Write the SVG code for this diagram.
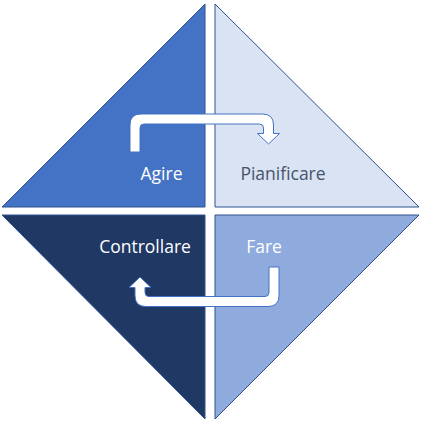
<svg xmlns="http://www.w3.org/2000/svg" width="421" height="424" viewBox="0 0 421 424">
  <style>
    .tri { stroke: #2F528F; stroke-width: 1; stroke-linejoin: miter; }
    .lbl { font-family: "Open Sans", "Noto Sans", "Liberation Sans", sans-serif; font-size: 17.5px; text-anchor: middle; }
    .arrow { fill: #FFFFFF; stroke: #4472C4; stroke-width: 1; stroke-linejoin: round; }
  </style>
  <rect width="421" height="424" fill="#FFFFFF"/>
  <g id="agire">
    <polygon class="tri" points="2,207 205,4 205,207" fill="#4472C4"/>
    <text class="lbl" x="161.5" y="180" fill="#FFFFFF">Agire</text>
  </g>
  <g id="pianificare">
    <polygon class="tri" points="215,4 419,207 215,207" fill="#DAE3F3"/>
    <text class="lbl" x="283" y="180" fill="#44546A">Pianificare</text>
  </g>
  <g id="controllare">
    <polygon class="tri" points="2,215 205,215 205,419" fill="#203864"/>
    <text class="lbl" x="145" y="253" fill="#FFFFFF">Controllare</text>
  </g>
  <g id="fare">
    <polygon class="tri" points="215,215 419,215 215,419" fill="#8FAADC"/>
    <text class="lbl" x="264" y="253" fill="#FFFFFF">Fare</text>
  </g>
  <g id="connectors">
    <path class="arrow" d="M130,152 L130,125 Q130,114 141,114 L262.5,114 Q273.5,114 273.5,125 L273.5,133.5 L279.5,133.5 L268.5,144 L257.5,133.5 L263.5,133.5 L263.5,128 Q263.5,124 259.5,124 L144,124 Q140,124 140,128 L140,152 Z"/>
    <path class="arrow" d="M279,267 L279,295.5 Q279,306.5 268,306.5 L146,306.5 Q135,306.5 135,295.5 L135,287.5 L129,287.5 L140,277 L151,287.5 L145,287.5 L145,292.5 Q145,296.5 149,296.5 L265,296.5 Q269,296.5 269,292.5 L269,267 Z"/>
  </g>
</svg>
